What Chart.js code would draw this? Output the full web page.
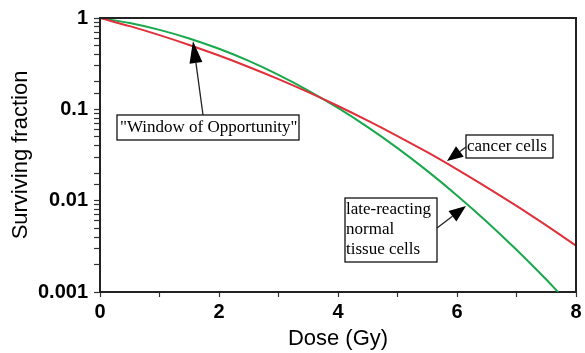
<!DOCTYPE html>
<html>
<head>
<meta charset="utf-8">
<script src="https://cdn.jsdelivr.net/npm/chart.js@4/dist/chart.umd.min.js"></script>
<style>
  html, body { margin: 0; padding: 0; background: #fff; }
  #wrap { width: 585px; height: 353px; position: relative; }
</style>
</head>
<body>
<div id="wrap"><canvas id="c" width="585" height="353"></canvas></div>
<script>
// ---- data ----
const cancerDoses = [0, 0.5, 1, 1.5, 2, 2.5, 3, 3.5, 4, 4.5, 5, 5.5, 6, 6.5, 7, 7.5, 8];
const cancerCells = [1, 0.814, 0.649, 0.507, 0.388, 0.291, 0.214, 0.154, 0.1088, 0.0752, 0.051, 0.0339, 0.022, 0.014, 0.00877, 0.00536, 0.00322];
const normalDoses = [0, 0.5, 1, 1.5, 2, 2.5, 3, 3.5, 4, 4.5, 5, 5.5, 6, 6.5, 7, 7.5, 7.7];
const normalTissue = [1, 0.88, 0.741, 0.597, 0.46, 0.339, 0.2385, 0.1607, 0.1036, 0.0638, 0.0376, 0.0212, 0.01142, 0.00589, 0.0029, 0.00137, 0.001];
const xTickLabels = ['0', '2', '4', '6', '8'];
const yTickLabels = ['0.001', '0.01', '0.1', '1'];
const xTitle = 'Dose (Gy)';
const yTitle = 'Surviving fraction';
const noteWindow = ['"Window of Opportunity"'];
const noteCancer = ['cancer cells'];
const noteNormal = ['late-reacting', 'normal', 'tissue cells'];

const toPoints = (xs, ys) => xs.map((x, i) => ({ x: x, y: ys[i] }));

// annotation boxes & arrows (pixel layout)
const notes = [
  { lines: noteWindow, box: [117, 115, 299, 140], textX: 120, lineY: [128], tail: [203, 115], tip: [193, 41], headLen: 22, headW: 13 },
  { lines: noteCancer, box: [466, 135, 553, 158], textX: 467, lineY: [147], tail: [466, 147], tip: [447, 161], headLen: 16, headW: 13 },
  { lines: noteNormal, box: [345, 198, 437, 262], textX: 346, lineY: [210, 230, 250], tail: [437, 228], tip: [466, 206], headLen: 17, headW: 13 }
];

const annotPlugin = {
  id: 'annot',
  afterDatasetsDraw(chart) {
    const ctx = chart.ctx;
    const a = chart.chartArea;
    ctx.save();
    // frame (top & right)
    ctx.strokeStyle = '#222';
    ctx.lineWidth = 2;
    ctx.beginPath();
    ctx.moveTo(a.left, a.top);
    ctx.lineTo(a.right, a.top);
    ctx.lineTo(a.right, a.bottom);
    ctx.stroke();

    notes.forEach(n => {
      const [x0, y0, x1, y1] = n.box;
      ctx.fillStyle = '#fff';
      ctx.fillRect(x0, y0, x1 - x0, y1 - y0);
      ctx.strokeStyle = '#111';
      ctx.lineWidth = 1.3;
      ctx.strokeRect(x0, y0, x1 - x0, y1 - y0);
      ctx.fillStyle = '#000';
      ctx.font = '17px "Liberation Serif", "Times New Roman", serif';
      ctx.textAlign = 'left';
      ctx.textBaseline = 'middle';
      n.lines.forEach((t, i) => ctx.fillText(t, n.textX, n.lineY[i]));

      // arrow
      const [tx, ty] = n.tail, [hx, hy] = n.tip;
      const ang = Math.atan2(hy - ty, hx - tx);
      const bx = hx - n.headLen * Math.cos(ang), by = hy - n.headLen * Math.sin(ang);
      ctx.strokeStyle = '#222';
      ctx.lineWidth = 1.3;
      ctx.beginPath();
      ctx.moveTo(tx, ty);
      ctx.lineTo(bx, by);
      ctx.stroke();
      const px = -Math.sin(ang) * n.headW / 2, py = Math.cos(ang) * n.headW / 2;
      ctx.fillStyle = '#000';
      ctx.beginPath();
      ctx.moveTo(hx, hy);
      ctx.lineTo(bx + px, by + py);
      ctx.lineTo(bx - px, by - py);
      ctx.closePath();
      ctx.fill();
    });
    ctx.restore();
  }
};

const tickFont = { family: '"Liberation Sans", Arial, sans-serif', size: 20, weight: 'bold' };
const titleFont = { family: '"Liberation Sans", Arial, sans-serif', size: 22, weight: 'normal' };

new Chart(document.getElementById('c'), {
  type: 'line',
  data: {
    datasets: [
      {
        label: 'cancer cells',
        data: toPoints(cancerDoses, cancerCells),
        borderColor: '#e0303a',
        borderWidth: 2,
        pointRadius: 0,
        fill: false,
        cubicInterpolationMode: 'monotone'
      },
      {
        label: 'late-reacting normal tissue cells',
        data: toPoints(normalDoses, normalTissue),
        borderColor: '#1aa84c',
        borderWidth: 2,
        pointRadius: 0,
        fill: false,
        cubicInterpolationMode: 'monotone'
      }
    ]
  },
  options: {
    responsive: false,
    animation: false,
    devicePixelRatio: 1,
    layout: { padding: { left: 0, top: 14, right: 9, bottom: 0 } },
    plugins: { legend: { display: false }, tooltip: { enabled: false } },
    scales: {
      x: {
        type: 'linear',
        min: 0,
        max: 8,
        afterFit: s => { s.height = 61; },
        ticks: {
          stepSize: 1,
          autoSkip: false,
          maxRotation: 0,
          padding: 3,
          color: '#000',
          font: tickFont,
          callback: v => xTickLabels.includes(String(v)) ? String(v) : ''
        },
        grid: { drawOnChartArea: false, drawTicks: true, tickLength: 5, tickColor: '#333', tickWidth: 1.2 },
        border: { display: true, color: '#222', width: 2 },
        title: { display: true, text: xTitle, color: '#000', font: titleFont, padding: { top: 0, bottom: 1 } }
      },
      y: {
        type: 'logarithmic',
        min: 0.001,
        max: 1,
        afterFit: s => { s.width = 100; },
        ticks: {
          autoSkip: false,
          padding: 6,
          color: '#000',
          font: tickFont,
          callback: v => {
            const s = String(Number(v.toPrecision(3)));
            return yTickLabels.includes(s) ? s : '';
          }
        },
        grid: { drawOnChartArea: false, drawTicks: true, tickLength: 6, tickColor: '#333', tickWidth: 1.2 },
        border: { display: true, color: '#222', width: 2 },
        title: { display: true, text: yTitle, color: '#000', font: titleFont, padding: { top: 8, bottom: 0 } }
      }
    }
  },
  plugins: [annotPlugin]
});
</script>
</body>
</html>
